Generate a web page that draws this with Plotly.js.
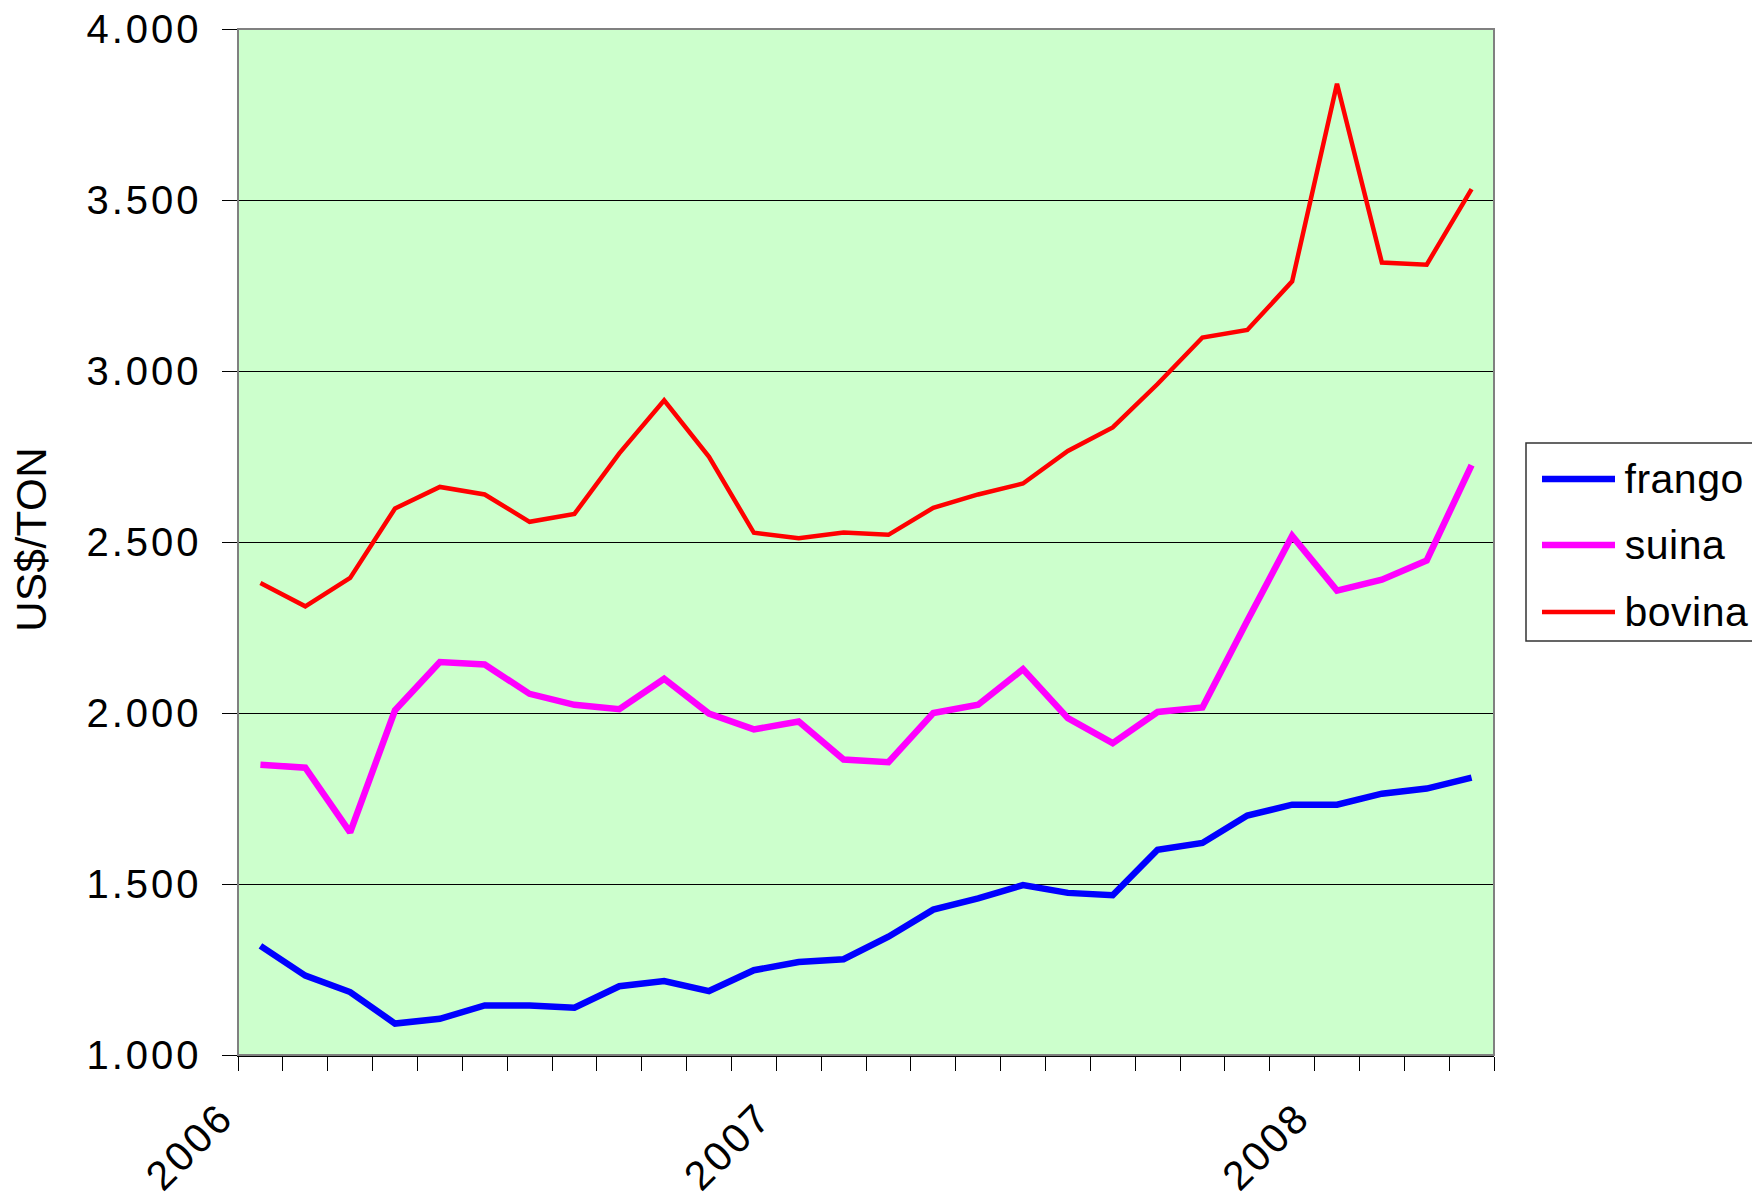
<!DOCTYPE html>
<html>
<head>
<meta charset="utf-8">
<script src="https://cdn.plot.ly/plotly-3.0.1.min.js"></script>
<style>
html,body{margin:0;padding:0;background:#fff;}
#chart{width:1752px;height:1199px;}
#chart .ytick text{letter-spacing:3px;}
#chart .xtick text{letter-spacing:3px;}
#chart .annotation-text{letter-spacing:0.5px;}
</style>
</head>
<body>
<div id="chart"></div>
<script>
const meses = ["jan/06","fev/06","mar/06","abr/06","mai/06","jun/06","jul/06","ago/06","set/06","out/06","nov/06","dez/06",
               "jan/07","fev/07","mar/07","abr/07","mai/07","jun/07","jul/07","ago/07","set/07","out/07","nov/07","dez/07",
               "jan/08","fev/08","mar/08","abr/08"];
const frango = [1319,1232,1184,1092,1106,1145,1145,1138,1201,1216,1187,1248,1272,1280,1346,1425,1458,1497,1474,1467,1600,1620,1700,1732,1732,1764,1779,1811];
const suina  = [1849,1840,1651,2008,2149,2142,2056,2024,2011,2100,1998,1952,1975,1864,1856,2000,2024,2128,1985,1912,2003,2016,2270,2518,2358,2390,2446,2725];
const bovina = [2380,2312,2395,2598,2661,2639,2559,2582,2759,2914,2749,2527,2511,2528,2521,2600,2639,2671,2766,2835,2962,3098,3120,3262,3840,3317,3311,3532];
const anoTicks = [0, 12, 24];
const anoLabels = ["2006", "2007", "2008"];
const seriesNames = ["frango", "suina", "bovina"];
const seriesColors = ["#0000FF", "#FF00FF", "#FF0000"];
const seriesWidths = [6.5, 6.5, 4.5];
const yTitle = "US$/TON";

const xs = meses.map((m, i) => i);
const allSeries = [frango, suina, bovina];

const traces = allSeries.map((ys, k) => ({
  x: xs, y: ys, type: 'scatter', mode: 'lines', name: seriesNames[k],
  text: meses, hovertemplate: '%{text}: %{y}<extra>' + seriesNames[k] + '</extra>',
  line: {color: seriesColors[k], width: seriesWidths[k], shape: 'linear'},
  showlegend: false
}));

// plot geometry (px)
const W = 1752, H = 1199;
const L = 238, R = 1494, T = 29, B = 1055;
const pw = R - L, ph = B - T;
const px = v => (v - L) / pw;
const py = v => (B - v) / ph;

const font = "Liberation Sans, Arial, sans-serif";

const shapes = [
  {type: 'rect', xref: 'paper', yref: 'paper', x0: 0, x1: 1, y0: 0, y1: 1,
   line: {color: '#808080', width: 2}, layer: 'above'},
  {type: 'rect', xref: 'paper', yref: 'paper', x0: px(1526), x1: px(1800), y0: py(641), y1: py(443),
   line: {color: '#333333', width: 1.5}, fillcolor: 'rgba(0,0,0,0)'}
];
const legRows = [479, 545, 612];
const annotations = [];
seriesNames.forEach((n, k) => {
  shapes.push({type: 'line', xref: 'paper', yref: 'paper', x0: px(1542), x1: px(1615),
    y0: py(legRows[k]), y1: py(legRows[k]), line: {color: seriesColors[k], width: seriesWidths[k]}});
  annotations.push({xref: 'paper', yref: 'paper', x: px(1624), y: py(legRows[k]), text: n,
    showarrow: false, xanchor: 'left', yanchor: 'middle', font: {family: font, size: 41, color: '#000'}});
});
annotations.push({xref: 'paper', yref: 'paper', x: px(31), y: py(540), text: yTitle, textangle: -90,
  showarrow: false, xanchor: 'center', yanchor: 'middle', font: {family: font, size: 42, color: '#000'}});

const layout = {
  width: W, height: H,
  margin: {l: L, r: W - R, t: T, b: H - B, pad: 0},
  paper_bgcolor: '#FFFFFF', plot_bgcolor: '#CCFFCC',
  separators: ',.',
  font: {family: font, color: '#000'},
  xaxis: {
    range: [-0.5, 27.5], tickmode: 'array', tickvals: anoTicks, ticktext: anoLabels,
    tickangle: -45, ticks: '', showgrid: false, zeroline: false,
    showline: true, linecolor: '#000', linewidth: 1.5,
    ticklabelshift: -39, ticklabelstandoff: 20,
    tickfont: {family: font, size: 41, color: '#000'},
    minor: {ticks: 'outside', tickmode: 'linear', tick0: -0.5, dtick: 1, ticklen: 14,
            tickcolor: '#000', tickwidth: 1, showgrid: false},
    automargin: false, fixedrange: true
  },
  yaxis: {
    range: [1000, 4000], tickmode: 'linear', tick0: 1000, dtick: 500, tickformat: ',d',
    ticks: 'outside', ticklen: 15, tickcolor: '#000', tickwidth: 1,
    showgrid: true, gridcolor: '#000', gridwidth: 1, zeroline: false,
    showline: true, linecolor: '#000', linewidth: 1.5,
    ticklabelstandoff: 12,
    tickfont: {family: font, size: 40, color: '#000'},
    automargin: false, fixedrange: true
  },
  shapes: shapes,
  annotations: annotations,
  showlegend: false
};

Plotly.newPlot('chart', traces, layout, {displayModeBar: false, staticPlot: true});
</script>
</body>
</html>
